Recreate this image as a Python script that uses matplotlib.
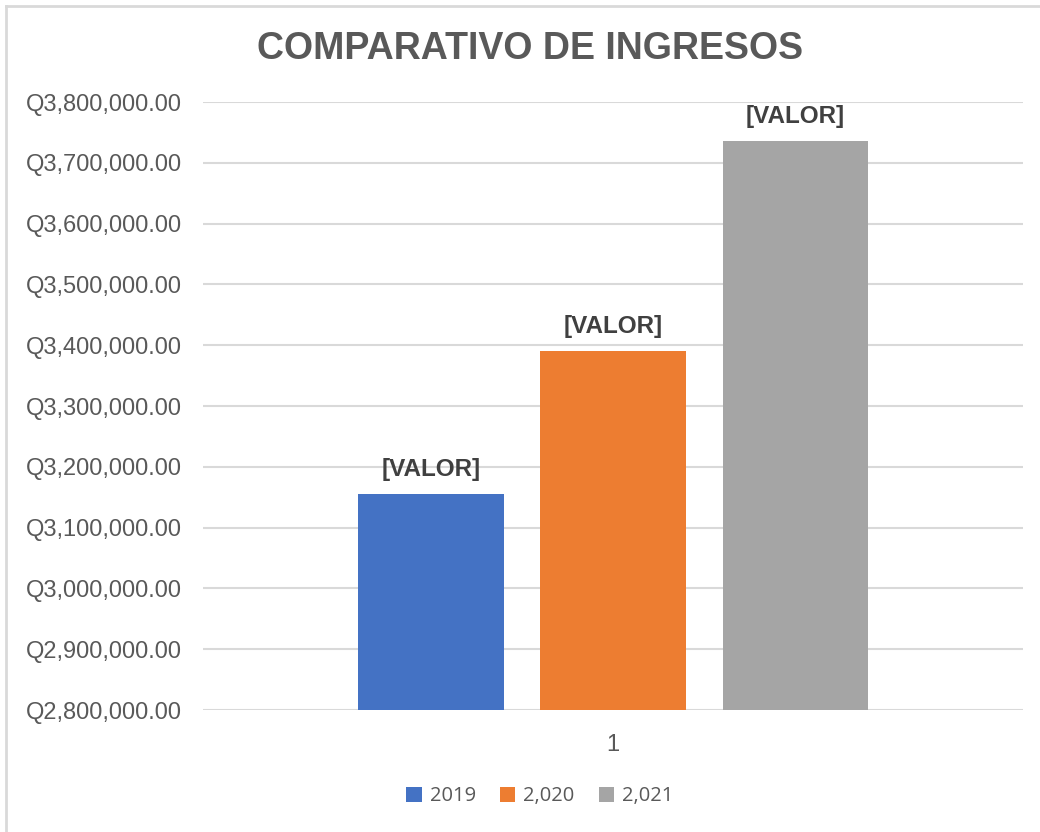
import numpy as np
import matplotlib
matplotlib.use("Agg")
from matplotlib import pyplot as plt
from matplotlib.lines import Line2D
from matplotlib.ticker import FuncFormatter

# Datos
categorias = ["1"]
series = ["2019", "2,020", "2,021"]
valores = [3155000, 3390500, 3736000]
colores = ["#4472C4", "#ED7D31", "#A5A5A5"]
etiqueta = "[VALOR]"

plt.rcParams['font.family'] = ['Liberation Sans', 'DejaVu Sans']

fig = plt.figure(figsize=(10.4, 8.32), dpi=100)
ax = fig.add_axes([0.1952, 0.1466, 0.7885, 0.7308])

# Borde del área del gráfico (solo visible arriba e izquierda)
fig.add_artist(Line2D([0.0062, 0.0062], [0, 0.9928], transform=fig.transFigure,
                      color="#d9d9d9", lw=2))
fig.add_artist(Line2D([0.0062, 1], [0.9928, 0.9928], transform=fig.transFigure,
                      color="#d9d9d9", lw=2))

x = np.arange(len(categorias))
ancho = 0.177
paso = 0.222
for i, (s, v, c) in enumerate(zip(series, valores, colores)):
    xs = x + (i - 1) * paso
    ax.bar(xs, [v], width=ancho, color=c, label=s, zorder=3)
    ax.text(xs[0], v + 22000, etiqueta, ha="center", va="bottom",
            fontsize=17.5, fontweight="bold", color="#404040")

ax.set_xlim(-0.5, 0.5)
ax.set_ylim(2800000, 3800000)
ax.set_yticks(np.arange(2800000, 3800001, 100000))
ax.yaxis.set_major_formatter(FuncFormatter(lambda v, p: f"Q{v:,.2f}"))
ax.set_xticks(x)
ax.set_xticklabels(categorias)
ax.tick_params(axis="both", length=0, labelsize=17, colors="#595959")
ax.tick_params(axis="y", pad=15)
ax.tick_params(axis="x", pad=17)
ax.grid(axis="y", color="#d9d9d9", lw=1.5, zorder=0)
for sp in ax.spines.values():
    sp.set_visible(False)

fig.text(0.5095, 0.941, "COMPARATIVO DE INGRESOS", ha="center", va="center",
         fontsize=27, fontweight="bold", color="#595959")

leg = fig.legend(loc="center", bbox_to_anchor=(0.519, 0.043), ncol=3,
                 frameon=False, prop={"family": ["Open Sans", "DejaVu Sans"], "size": 14.5},
                 handlelength=0.75, handleheight=0.75,
                 handletextpad=0.4, columnspacing=1.2)
for t in leg.get_texts():
    t.set_color("#595959")

fig.savefig("out.png", dpi=100, facecolor="white")
